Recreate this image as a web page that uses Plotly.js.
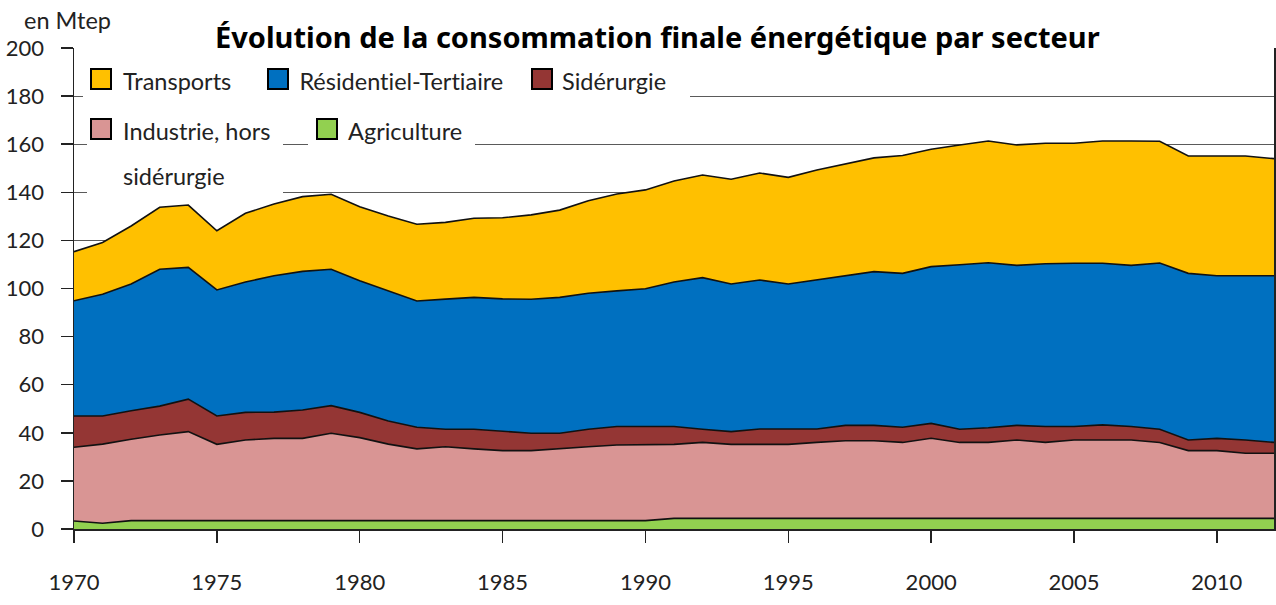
<!DOCTYPE html>
<html>
<head>
<meta charset="utf-8">
<script src="https://cdn.plot.ly/plotly-3.0.1.min.js"></script>
<style>
  html, body { margin: 0; padding: 0; background: #ffffff; }
  #chart { width: 1276px; height: 605px; }
  #chart text { font-variant-ligatures: none; font-feature-settings: "liga" 0, "clig" 0; }
</style>
</head>
<body>
<div id="chart"></div>
<script>
// ---- Data (Mtep) ----
const years = [1970,1971,1972,1973,1974,1975,1976,1977,1978,1979,
               1980,1981,1982,1983,1984,1985,1986,1987,1988,1989,
               1990,1991,1992,1993,1994,1995,1996,1997,1998,1999,
               2000,2001,2002,2003,2004,2005,2006,2007,2008,2009,
               2010,2011,2012];

const agriculture = [3.3,2.4,3.5,3.5,3.5,3.5,3.5,3.5,3.5,3.5,
                     3.5,3.5,3.5,3.5,3.5,3.5,3.5,3.5,3.5,3.5,
                     3.5,4.4,4.4,4.4,4.4,4.4,4.4,4.4,4.4,4.4,
                     4.4,4.4,4.4,4.4,4.4,4.4,4.4,4.4,4.4,4.4,
                     4.4,4.4,4.4];

const industrie = [30.7,32.9,33.8,35.6,37.0,31.7,33.5,34.2,34.2,36.3,
                   34.5,31.8,29.8,30.7,29.8,29.1,29.1,30.0,30.7,31.4,
                   31.7,30.8,31.6,30.8,30.8,30.8,31.6,32.3,32.3,31.6,
                   33.3,31.6,31.6,32.6,31.6,32.6,32.6,32.6,31.6,28.2,
                   28.2,27.1,27.1];

const siderurgie = [13.0,11.7,11.9,12.0,13.5,11.8,11.5,10.9,11.8,11.5,
                    10.5,9.6,9.0,7.3,8.2,7.9,7.2,6.3,7.3,7.7,
                    7.4,7.4,5.5,5.3,6.4,6.4,5.6,6.4,6.4,6.3,
                    6.2,5.5,6.1,6.1,6.6,5.6,6.3,5.6,5.5,4.4,
                    5.1,5.5,4.5];

const residentiel = [47.9,50.6,52.7,56.9,54.8,52.4,54.2,56.7,57.6,56.7,
                     54.7,54.1,52.5,54.1,54.8,55.2,55.7,56.5,56.5,56.4,
                     57.3,60.1,63.0,61.4,61.9,60.3,61.9,62.1,63.9,64.0,
                     65.2,68.4,68.6,66.5,67.7,67.9,67.2,67.0,69.1,69.3,
                     67.6,68.3,69.3];

const transports = [20.4,21.5,24.1,25.8,25.9,24.6,28.6,29.8,31.1,31.2,
                    30.8,31.1,31.9,31.9,32.9,33.7,35.1,36.3,38.5,40.3,
                    41.1,42.0,42.7,43.5,44.5,44.3,45.8,46.7,47.3,49.0,
                    48.8,49.8,50.6,50.1,50.1,49.9,50.8,51.7,50.6,48.8,
                    49.8,49.8,48.7];

const seriesNames  = ["Agriculture", "Industrie, hors sidérurgie", "Sidérurgie", "Résidentiel-Tertiaire", "Transports"];
const seriesColors = ["#92D050", "#D99594", "#943634", "#0070C0", "#FFC000"];
const seriesValues = [agriculture, industrie, siderurgie, residentiel, transports];

const yTicks = [0,20,40,60,80,100,120,140,160,180,200];
const xTicks = [1970,1975,1980,1985,1990,1995,2000,2005,2010];

// ---- Layout helpers (pixel -> paper) ----
const W = 1276, H = 605;
const M = {l: 74, r: 2, t: 48, b: 76};
const PW = W - M.l - M.r, PH = H - M.t - M.b;
const px = x => (x - M.l) / PW;
const py = y => (H - M.b - y) / PH;

const FONT = "Lato, 'Noto Sans', 'Liberation Sans', sans-serif";
const TITLE_FONT = "'Noto Sans', Lato, 'Liberation Sans', sans-serif";
const TXT = "#222222";
const LSIZE = 23.5;

const traces = seriesValues.map((vals, i) => ({
  type: "scatter",
  mode: "lines",
  x: years,
  y: vals,
  name: seriesNames[i],
  stackgroup: "one",
  line: {color: "#111111", width: 1.6, shape: "linear"},
  fillcolor: seriesColors[i],
  hoverinfo: "x+y+name"
}));

// legend built as shapes + text
const legendItems = [
  {idx: 4, sx: 91, sy: 69, tx: 121, ty: 81, label: "Transports"},
  {idx: 3, sx: 268, sy: 69, tx: 297, ty: 81, label: "Résidentiel-Tertiaire"},
  {idx: 2, sx: 532, sy: 69, tx: 560, ty: 81, label: "Sidérurgie"},
  {idx: 1, sx: 91, sy: 119, tx: 121, ty: 131, label: "Industrie, hors"},
  {idx: 0, sx: 317, sy: 119, tx: 346, ty: 131, label: "Agriculture"}
];
const SW = 20;

const shapes = [];
// white masks over gridlines
const masks = [
  [206, 18, 1118, 56],   // title
  [83, 58, 690, 102],    // legend row 1
  [87, 108, 283, 198],   // legend item "Industrie, hors sidérurgie"
  [308, 108, 475, 152]   // legend item "Agriculture"
];
masks.forEach(m => shapes.push({
  type: "rect", xref: "paper", yref: "paper", layer: "above",
  x0: px(m[0]), x1: px(m[2]), y0: py(m[3]), y1: py(m[1]),
  fillcolor: "#ffffff", line: {width: 0}
}));
legendItems.forEach(it => shapes.push({
  type: "rect", xref: "paper", yref: "paper", layer: "above",
  x0: px(it.sx), x1: px(it.sx + SW), y0: py(it.sy + SW), y1: py(it.sy),
  fillcolor: seriesColors[it.idx], line: {color: "#000000", width: 2}
}));

const annotations = legendItems.map(it => ({
  xref: "paper", yref: "paper", x: px(it.tx), y: py(it.ty),
  xanchor: "left", yanchor: "middle", showarrow: false,
  text: it.label, font: {family: FONT, size: LSIZE, color: TXT}
}));
annotations.push({
  xref: "paper", yref: "paper", x: px(121), y: py(176),
  xanchor: "left", yanchor: "middle", showarrow: false,
  text: "sidérurgie", font: {family: FONT, size: LSIZE, color: TXT}
});
annotations.push({
  xref: "paper", yref: "paper", x: px(657), y: py(36),
  xanchor: "center", yanchor: "middle", showarrow: false,
  text: "<b>Évolution de la consommation finale énergétique par secteur</b>",
  font: {family: TITLE_FONT, size: 29, color: "#000000"}
});
annotations.push({
  xref: "paper", yref: "paper", x: px(22), y: py(20),
  xanchor: "left", yanchor: "middle", showarrow: false,
  text: "en Mtep", font: {family: FONT, size: LSIZE, color: TXT}
});

const layout = {
  width: W, height: H,
  margin: M,
  paper_bgcolor: "#ffffff",
  plot_bgcolor: "#ffffff",
  showlegend: false,
  font: {family: FONT, size: 22, color: TXT},
  xaxis: {
    range: [1970, 2012],
    tickmode: "array", tickvals: xTicks, ticktext: xTicks.map(String),
    ticks: "outside", ticklen: 12, tickwidth: 1.5, tickcolor: "#222222",
    showline: true, linecolor: "#222222", linewidth: 1.5,
    showgrid: false, zeroline: false,
    ticklabelstandoff: 21,
    tickfont: {family: FONT, size: 22, color: TXT}
  },
  xaxis2: {
    overlaying: "x", anchor: "y", side: "bottom",
    range: [1970, 2012],
    tickmode: "array", tickvals: xTicks,
    ticks: "inside", ticklen: 10, tickwidth: 1.5, tickcolor: "#222222",
    showticklabels: false, showline: false, showgrid: false, zeroline: false,
    layer: "above traces"
  },
  yaxis: {
    range: [0, 200],
    tickmode: "array", tickvals: yTicks, ticktext: yTicks.map(String),
    ticks: "outside", ticklen: 12, tickwidth: 1.5, tickcolor: "#222222",
    showline: true, mirror: true, linecolor: "#222222", linewidth: 1.5,
    showgrid: true, gridcolor: "#5a5a5a", gridwidth: 1.2,
    zeroline: false,
    ticklabelstandoff: 12,
    tickfont: {family: FONT, size: 22, color: TXT}
  },
  shapes: shapes,
  annotations: annotations
};

Plotly.newPlot("chart", traces, layout, {displayModeBar: false, staticPlot: true});
</script>
</body>
</html>
